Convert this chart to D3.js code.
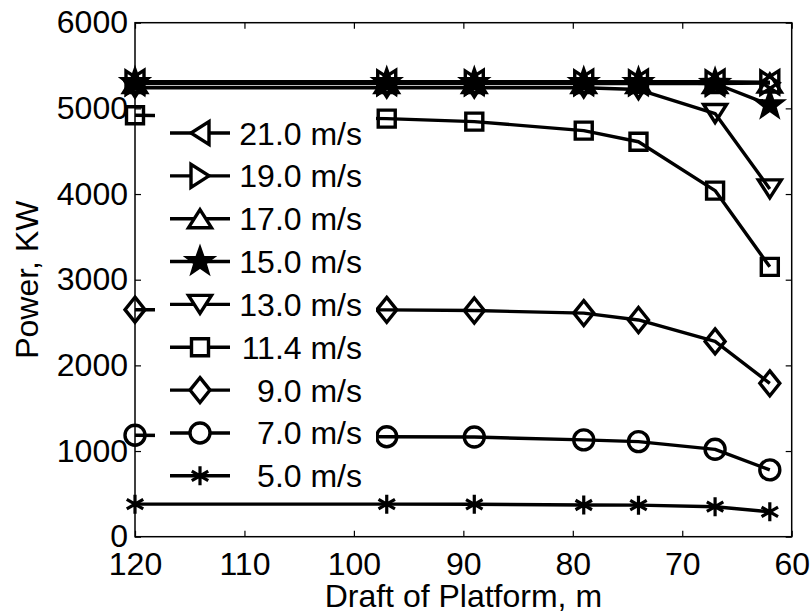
<!DOCTYPE html>
<html>
<head>
<meta charset="utf-8">
<script src="https://cdn.jsdelivr.net/npm/d3@7"></script>
<style>
  html, body { margin: 0; padding: 0; background: #fff; }
  svg { display: block; }
  text { font-family: "Liberation Sans", Arial, Helvetica, sans-serif; fill: #000; }
</style>
</head>
<body>
<svg id="chart" width="810" height="613"></svg>
<script>
// ---- data ----
const drafts = [120, 97, 89, 79, 74, 67, 62];
const speedLabels = ["21.0 m/s", "19.0 m/s", "17.0 m/s", "15.0 m/s", "13.0 m/s", "11.4 m/s", "9.0 m/s", "7.0 m/s", "5.0 m/s"];
const markerTypes = ["triLeft", "triRight", "triUp", "pentagram", "triDown", "square", "diamond", "circle", "asterisk"];
const p21 = [5310, 5310, 5310, 5310, 5310, 5310, 5305];
const p19 = [5300, 5300, 5300, 5300, 5300, 5300, 5300];
const p17 = [5290, 5290, 5290, 5290, 5290, 5290, 5295];
const p15 = [5300, 5300, 5300, 5300, 5300, 5290, 5040];
const p13 = [5240, 5240, 5240, 5240, 5220, 4940, 4060];
const p114 = [4920, 4880, 4845, 4740, 4610, 4040, 3150];
const p9 = [2650, 2648, 2640, 2610, 2530, 2280, 1790];
const p7 = [1185, 1167, 1163, 1130, 1110, 1020, 780];
const p5 = [380, 380, 378, 370, 368, 350, 290];
const seriesValues = [p21, p19, p17, p15, p13, p114, p9, p7, p5];
const xTicks = [120, 110, 100, 90, 80, 70, 60];
const yTicks = [0, 1000, 2000, 3000, 4000, 5000, 6000];
const xTitle = "Draft of Platform, m";
const yTitle = "Power, KW";

// ---- layout ----
const L = 135, R = 791.7, T = 22.7, B = 536.7;
const svg = d3.select("#chart");
const x = d3.scaleLinear().domain([120, 60]).range([L, R]);
const y = d3.scaleLinear().domain([0, 6000]).range([B, T]);
const FS = 32;
const LW = 3.4;

// marker path generator
function markerPath(type) {
  switch (type) {
    case "triDown": return "M-11.5,-9L11.5,-9L0,9Z";
    case "triUp": return "M-11.5,9L11.5,9L0,-9Z";
    case "triLeft": return "M9,-11.5L9,11.5L-9,0Z";
    case "triRight": return "M-9,-11.5L-9,11.5L9,0Z";
    case "square": return "M-8.5,-8.5H8.5V8.5H-8.5Z";
    case "diamond": return "M0,-12.5L10,0L0,12.5L-10,0Z";
    case "circle": return "M10,0A10,10 0 1,1 -10,0A10,10 0 1,1 10,0Z";
    case "pentagram": {
      const Ro = 13, Ri = 5.2; let d = "";
      for (let i = 0; i < 10; i++) {
        const r = i % 2 === 0 ? Ro : Ri;
        const a = -Math.PI / 2 + i * Math.PI / 5;
        d += (i === 0 ? "M" : "L") + (r * Math.cos(a)).toFixed(2) + "," + (r * Math.sin(a)).toFixed(2);
      }
      return d + "Z";
    }
    case "asterisk": {
      const r = 9.5; let d = "";
      for (let i = 0; i < 3; i++) {
        const a = Math.PI / 2 + i * Math.PI / 3;
        d += "M" + (r * Math.cos(a)).toFixed(2) + "," + (r * Math.sin(a)).toFixed(2) +
             "L" + (-r * Math.cos(a)).toFixed(2) + "," + (-r * Math.sin(a)).toFixed(2);
      }
      return d;
    }
  }
}
const markerFill = t => (t === "pentagram" ? "#000" : "none");
const markerStroke = t => (t === "asterisk" ? 3.2 : LW);

// ---- axes ----
const fmt = d3.format("d");
const gx = svg.append("g").attr("transform", `translate(0,${B})`)
  .call(d3.axisBottom(x).tickValues(xTicks).tickFormat(fmt).tickSizeInner(-6).tickSizeOuter(0).tickPadding(16));
const gy = svg.append("g").attr("transform", `translate(${L},0)`)
  .call(d3.axisLeft(y).tickValues(yTicks).tickFormat(fmt).tickSizeInner(-6).tickSizeOuter(0).tickPadding(7));
const gt = svg.append("g").attr("transform", `translate(0,${T})`)
  .call(d3.axisTop(x).tickValues(xTicks).tickSizeInner(-6).tickSizeOuter(0).tickFormat(""));
const gr = svg.append("g").attr("transform", `translate(${R},0)`)
  .call(d3.axisRight(y).tickValues(yTicks).tickSizeInner(-6).tickSizeOuter(0).tickFormat(""));
[gx, gy, gt, gr].forEach(g => {
  g.select(".domain").remove();
  g.selectAll(".tick line").attr("stroke", "#000").attr("stroke-width", 1.2);
  g.selectAll(".tick text").attr("font-size", FS).attr("font-family", "Liberation Sans, Arial, sans-serif").attr("fill", "#000");
});
svg.append("rect").attr("x", L).attr("y", T).attr("width", R - L).attr("height", B - T)
  .attr("fill", "none").attr("stroke", "#000").attr("stroke-width", 1.5);

// ---- series ----
const line = d3.line().x(d => x(d[0])).y(d => y(d[1]));
seriesValues.forEach((vals, i) => {
  const pts = drafts.map((d, j) => [d, vals[j]]);
  const g = svg.append("g");
  g.append("path").attr("d", line(pts)).attr("fill", "none").attr("stroke", "#000")
    .attr("stroke-width", LW).attr("stroke-linejoin", "round");
  g.selectAll("path.m").data(pts).enter().append("path").attr("class", "m")
    .attr("transform", d => `translate(${x(d[0])},${y(d[1])})`)
    .attr("d", markerPath(markerTypes[i]))
    .attr("fill", markerFill(markerTypes[i]))
    .attr("stroke", "#000").attr("stroke-width", markerStroke(markerTypes[i]))
    .attr("stroke-linejoin", "miter");
});

// ---- legend ----
const leg = svg.append("g");
leg.append("rect").attr("x", 155).attr("y", 101).attr("width", 221).attr("height", 399).attr("fill", "#fff");
const rowY = i => 133 + 42.85 * i;
speedLabels.forEach((lab, i) => {
  const cy = rowY(i);
  leg.append("line").attr("x1", 170).attr("x2", 230).attr("y1", cy).attr("y2", cy)
    .attr("stroke", "#000").attr("stroke-width", LW);
  leg.append("path").attr("transform", `translate(200,${cy})`).attr("d", markerPath(markerTypes[i]))
    .attr("fill", markerTypes[i] === "pentagram" ? "#000" : "#fff")
    .attr("stroke", "#000").attr("stroke-width", markerStroke(markerTypes[i]));
  leg.append("text").attr("x", 362).attr("y", cy + 11.5).attr("text-anchor", "end")
    .attr("font-size", FS).text(lab);
});

// ---- titles ----
svg.append("text").attr("x", (L + R) / 2).attr("y", 607).attr("text-anchor", "middle")
  .attr("font-size", FS).text(xTitle);
svg.append("text").attr("transform", `translate(38,${(T + B) / 2}) rotate(-90)`).attr("text-anchor", "middle")
  .attr("font-size", FS).text(yTitle);
</script>
</body>
</html>
